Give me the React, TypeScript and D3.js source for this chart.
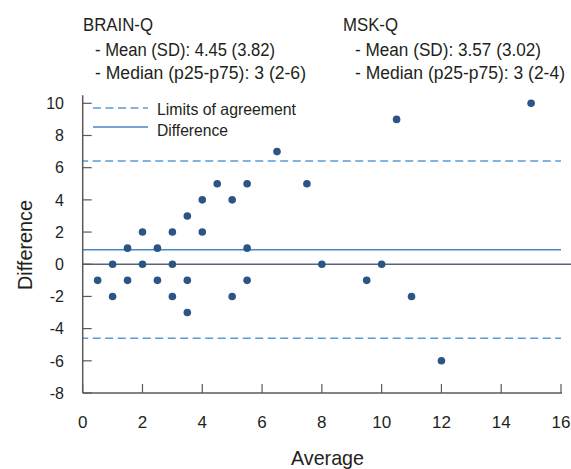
import React from "react";
import * as d3 from "d3";

const averages = [0.5, 1, 1, 1.5, 1.5, 2, 2, 2.5, 2.5, 3, 3, 3, 3.5, 3.5, 3.5, 4, 4, 4.5, 5, 5, 5.5, 5.5, 5.5, 6.5, 7.5, 8, 9.5, 10, 10.5, 11, 12, 15];
const differences = [-1, 0, -2, -1, 1, 2, 0, -1, 1, 2, 0, -2, 3, -1, -3, 4, 2, 5, 4, -2, 5, 1, -1, 7, 5, 0, -1, 0, 9, -2, -6, 10];
const meanDifference = 0.9;
const limitsOfAgreement = [-4.6, 6.42];
const xTicks = [0, 2, 4, 6, 8, 10, 12, 14, 16];
const yTicks = [-8, -6, -4, -2, 0, 2, 4, 6, 8, 10];
const headerLeft = ["BRAIN-Q", "- Mean (SD): 4.45 (3.82)", "- Median (p25-p75): 3 (2-6)"];
const headerRight = ["MSK-Q", "- Mean (SD): 3.57 (3.02)", "- Median (p25-p75): 3 (2-4)"];
const legendLabels = ["Limits of agreement", "Difference"];

const W = 571, H = 469;
const FONT = "'Liberation Sans', Arial, sans-serif";
const DOT = "#2b5585";
const LINE = "#5b9bd5";
const MEANLINE = "#4a86c5";
const AXIS = "#5a5a5a";
const TEXT = "#231f20";

const headerY = [31, 55.5, 78.5];
const headerLeftX = [83, 95, 95];
const headerRightX = [343, 355, 355];
const headerLeftW = [70, 180, 211];
const headerRightW = [55, 186, 210];

export default function App() {
  const x = d3.scaleLinear().domain([0, 16]).range([82.7, 561]);
  const y = d3.scaleLinear().domain([-8, 10]).range([393, 103.3]);
  const x0 = x(0), x1 = x(16);
  return (
    <svg width={W} height={H} style={{ position: "absolute", left: 0, top: 0, background: "#fff" }} fontFamily={FONT}>
      {headerLeft.map((t, i) => (
        <text key={"l" + i} x={headerLeftX[i]} y={headerY[i]} fontSize={18} fill={TEXT}
          textLength={headerLeftW[i]} lengthAdjust="spacingAndGlyphs">{t}</text>
      ))}
      {headerRight.map((t, i) => (
        <text key={"r" + i} x={headerRightX[i]} y={headerY[i]} fontSize={18} fill={TEXT}
          textLength={headerRightW[i]} lengthAdjust="spacingAndGlyphs">{t}</text>
      ))}
      {limitsOfAgreement.map((v, i) => (
        <line key={"loa" + i} x1={x0} x2={x1} y1={y(v)} y2={y(v)} stroke={LINE} strokeWidth={1.5} strokeDasharray="8,4.5" strokeDashoffset={-10} />
      ))}
      <line x1={x0} x2={x1} y1={y(meanDifference)} y2={y(meanDifference)} stroke={MEANLINE} strokeWidth={1.3} />
      <line x1={x0} x2={W} y1={y(0)} y2={y(0)} stroke="#5b6577" strokeWidth={1.5} />
      <line x1={x0} x2={x0} y1={y(10.5)} y2={y(-8)} stroke={AXIS} strokeWidth={1.5} />
      <line x1={x0} x2={x1 + 1} y1={y(-8)} y2={y(-8)} stroke={AXIS} strokeWidth={1.5} />
      {yTicks.map((t) => (
        <g key={"yt" + t}>
          <line x1={x0} x2={x0 + 9} y1={y(t)} y2={y(t)} stroke={AXIS} strokeWidth={1.2} />
          <text x={64} y={y(t)} dy="0.36em" textAnchor="end" fontSize={16} fill={TEXT}>{t}</text>
        </g>
      ))}
      {xTicks.map((t) => (
        <g key={"xt" + t}>
          <line x1={x(t)} x2={x(t)} y1={y(-8)} y2={y(-8) - 9} stroke={AXIS} strokeWidth={1.2} />
          <text x={x(t)} y={428} textAnchor="middle" fontSize={17} fill={TEXT}>{t}</text>
        </g>
      ))}
      <line x1={93} x2={148} y1={108} y2={108} stroke={LINE} strokeWidth={1.5} strokeDasharray="8,4.5" />
      <line x1={93} x2={148} y1={127} y2={127} stroke={MEANLINE} strokeWidth={1.3} />
      <text x={157} y={115} fontSize={16.5} fill={TEXT} textLength={139} lengthAdjust="spacingAndGlyphs">{legendLabels[0]}</text>
      <text x={157} y={135.5} fontSize={16.5} fill={TEXT} textLength={71} lengthAdjust="spacingAndGlyphs">{legendLabels[1]}</text>
      {averages.map((a, i) => (
        <circle key={"p" + i} cx={x(a)} cy={y(differences[i])} r={3.8} fill={DOT} />
      ))}
      <text x={327.5} y={465} textAnchor="middle" fontSize={21} fill={TEXT} textLength={73} lengthAdjust="spacingAndGlyphs">Average</text>
      <text transform="translate(32,245) rotate(-90)" textAnchor="middle" fontSize={21} fill={TEXT} textLength={90} lengthAdjust="spacingAndGlyphs">Difference</text>
    </svg>
  );
}
